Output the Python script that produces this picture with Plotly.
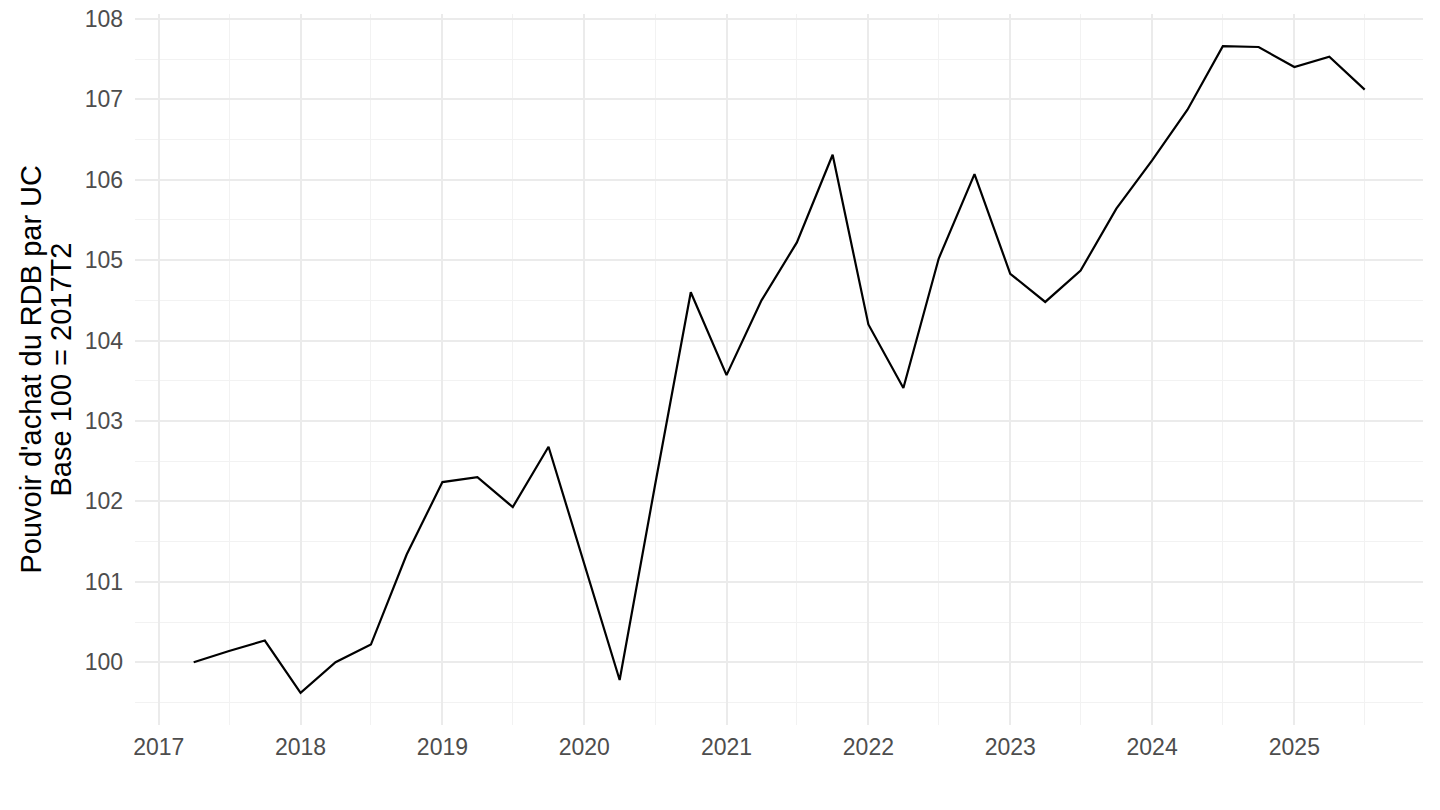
import plotly.graph_objects as go

dates = ["2017-04-01", "2017-07-01", "2017-10-01",
         "2018-01-01", "2018-04-01", "2018-07-01", "2018-10-01",
         "2019-01-01", "2019-04-01", "2019-07-01", "2019-10-01",
         "2020-01-01", "2020-04-01", "2020-07-01", "2020-10-01",
         "2021-01-01", "2021-04-01", "2021-07-01", "2021-10-01",
         "2022-01-01", "2022-04-01", "2022-07-01", "2022-10-01",
         "2023-01-01", "2023-04-01", "2023-07-01", "2023-10-01",
         "2024-01-01", "2024-04-01", "2024-07-01", "2024-10-01",
         "2025-01-01", "2025-04-01", "2025-07-01"]
values = [100.0, 100.14, 100.27,
          99.62, 100.0, 100.22, 101.34,
          102.24, 102.30, 101.93, 102.68,
          101.23, 99.78, 102.2, 104.6,
          103.57, 104.5, 105.22, 106.31,
          104.2, 103.41, 105.02, 106.07,
          104.83, 104.48, 104.87, 105.64,
          106.24, 106.87, 107.66, 107.65,
          107.40, 107.53, 107.12]
y_title_1 = "Pouvoir d'achat du RDB par UC"
y_title_2 = "Base 100 = 2017T2"

fig = go.Figure()
fig.add_trace(go.Scatter(x=dates, y=values, mode="lines",
                         line=dict(color="black", width=2.2),
                         showlegend=False, hoverinfo="x+y"))

grid_major = "#EBEBEB"
grid_minor = "#F2F2F2"

fig.update_layout(
    width=1440, height=810,
    paper_bgcolor="white", plot_bgcolor="white",
    margin=dict(l=135, r=17, t=14, b=85, autoexpand=False),
    font=dict(family="Liberation Sans, Arial, sans-serif"),
    xaxis=dict(
        type="date",
        range=["2016-11-01", "2025-11-28"],
        tick0="2017-01-01", dtick="M12", tickformat="%Y",
        showgrid=True, gridcolor=grid_major, gridwidth=1.6,
        zeroline=False, showline=False, ticks="",
        tickfont=dict(size=23, color="#4D4D4D"),
        ticklabelstandoff=6, ticklabeloverflow="allow",
        minor=dict(dtick="M6", tick0="2017-01-01", showgrid=True,
                   gridcolor=grid_minor, gridwidth=1),
    ),
    yaxis=dict(
        range=[99.22, 108.06],
        tick0=100, dtick=1,
        showgrid=True, gridcolor=grid_major, gridwidth=1.6,
        zeroline=False, showline=False, ticks="",
        tickfont=dict(size=23, color="#4D4D4D"),
        ticklabelstandoff=11, ticklabeloverflow="allow",
        minor=dict(dtick=0.5, showgrid=True, gridcolor=grid_minor, gridwidth=1),
    ),
    annotations=[
        dict(text=y_title_1, xref="paper", yref="paper", x=0, y=0.5,
             xanchor="center", yanchor="middle", xshift=-105, textangle=-90,
             showarrow=False, font=dict(size=29, color="black")),
        dict(text=y_title_2, xref="paper", yref="paper", x=0, y=0.5,
             xanchor="center", yanchor="middle", xshift=-75, textangle=-90,
             showarrow=False, font=dict(size=29, color="black")),
    ],
)

fig.write_html("out.html", config={"displayModeBar": False},
               post_script="document.body.style.margin='0';document.body.style.padding='0';")
